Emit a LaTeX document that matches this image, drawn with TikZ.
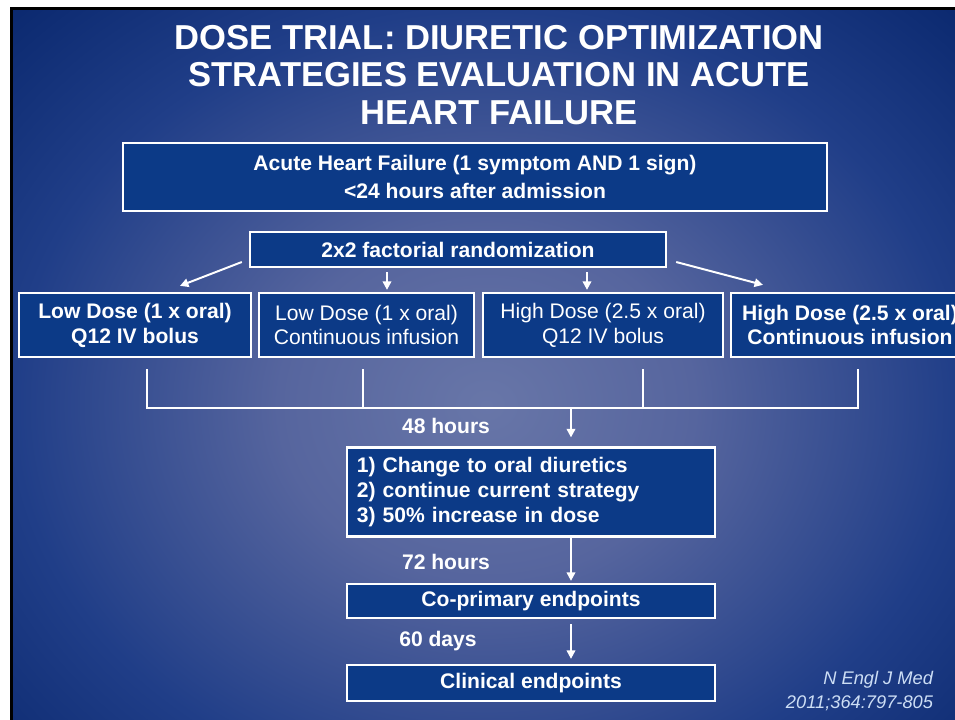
\documentclass[tikz,border=0pt]{standalone}
\usepackage{fontspec}
\setmainfont{Liberation Sans}
\usetikzlibrary{arrows.meta}
\definecolor{slideouter}{RGB}{10,40,110}
\definecolor{slideedge}{RGB}{32,62,136}
\definecolor{slidemid}{RGB}{86,101,158}
\definecolor{slideinner}{RGB}{104,118,168}
\definecolor{boxfill}{RGB}{12,58,135}
\definecolor{citecol}{RGB}{205,222,245}
\pgfdeclareradialshading{slideglow}{\pgfpoint{0bp}{0bp}}{color(0bp)=(slideinner); color(11bp)=(slidemid); color(25bp)=(slideedge); color(36bp)=(slideouter); color(50bp)=(slideouter)}
\begin{document}
\begin{tikzpicture}[x=0.025cm, y=-0.025cm,
  box/.style={draw=white, line width=1.6pt, fill=boxfill, text=white, inner sep=0pt, align=center, font=\bfseries\fontsize{15}{17.7}\selectfont},
  plain/.style={font=\fontsize{15}{17.7}\selectfont},
  line/.style={draw=white, line width=1.4pt},
  arr/.style={line, -{Triangle[length=6pt,width=6pt]}},
  lbl/.style={text=white, font=\bfseries\fontsize{15}{18}\selectfont}]
\useasboundingbox (0,0) rectangle (955,719);
\clip (0,0) rectangle (955,719);
\fill[white] (0,0) rectangle (955,719);
\fill[black] (10,7) rectangle (960,730);
\shade[shading=slideglow] (13,10) rectangle (960,800);

\node[text=white, align=center, font=\bfseries\fontsize{24.6}{26.6}\selectfont] (title) at (499,75) {DOSE TRIAL: DIURETIC OPTIMIZATION\\STRATEGIES EVALUATION IN ACUTE\\HEART FAILURE};

\node[box, minimum width=17.6cm, minimum height=1.7cm, font=\bfseries\fontsize{15}{20.5}\selectfont] (ahf) at (475,177) {Acute Heart Failure (1 symptom AND 1 sign)\\<24 hours after admission};
\node[box, minimum width=10.4cm, minimum height=0.875cm] (rand) at (458,249.5) {2x2 factorial randomization};

\node[box, minimum width=5.8cm, minimum height=1.6cm] (lowbolus) at (135,325) {Low Dose (1 x oral)\\Q12 IV bolus};
\node[box, plain, minimum width=5.375cm, minimum height=1.6cm] (lowinf) at (366.5,325) {Low Dose (1 x oral)\\Continuous infusion};
\node[box, plain, minimum width=6cm, minimum height=1.6cm] (highbolus) at (603,325) {High Dose (2.5 x oral)\\Q12 IV bolus};
\node[box, minimum width=5.95cm, minimum height=1.6cm] (highinf) at (850,325) {High Dose (2.5 x oral)\\Continuous infusion};

\node[box, font=\bfseries\fontsize{15}{18}\selectfont, align=left, text width=8.7cm, inner xsep=0.25cm, minimum height=2.225cm] (strat) at (531,492) {1) Change to oral diuretics\\2) continue current strategy\\3) 50\% increase in dose};
\node[box, minimum width=9.2cm, minimum height=0.85cm] (coprim) at (531,601) {Co-primary endpoints};
\node[box, minimum width=9.2cm, minimum height=0.9cm] (clin) at (531,683) {Clinical endpoints};

\node[lbl] (h48) at (446,426) {48 hours};
\node[lbl] (h72) at (446,562) {72 hours};
\node[lbl] (d60) at (438,641) {60 days};

\node[anchor=east, align=right, text=citecol, font=\itshape\fontsize{13}{17}\selectfont] (cite) at (938,691) {N Engl J Med\\2011;364:797-805};

\draw[arr] ([shift={(-7,12.5)}]rand.west) -- ([shift={(45,-6)}]lowbolus.north);
\draw[arr] ([shift={(-71,4)}]rand.south) -- ([shift={(20.5,-2)}]lowinf.north);
\draw[arr] ([shift={(129,4)}]rand.south) -- ([shift={(-16,-2)}]highbolus.north);
\draw[arr] ([shift={(9,12.5)}]rand.east) -- ([shift={(-87,-7)}]highinf.north);

\draw[line] ([shift={(12,11)}]lowbolus.south) -- ++(0,39) -- ([shift={(8,50)}]highinf.south) -- ++(0,-39);
\draw[line] ([shift={(-3.5,11)}]lowinf.south) -- ++(0,39);
\draw[line] ([shift={(40,11)}]highbolus.south) -- ++(0,39);
\coordinate (merge) at ([shift={(-32,50)}]highbolus.south);
\draw[arr] (merge) -- ([shift={(40,-9)}]strat.north);
\draw[arr] ([shift={(40,0)}]strat.south) -- ([shift={(40,-2)}]coprim.north);
\draw[arr] ([shift={(40,5)}]coprim.south) -- ([shift={(40,-5)}]clin.north);
\end{tikzpicture}
\end{document}
